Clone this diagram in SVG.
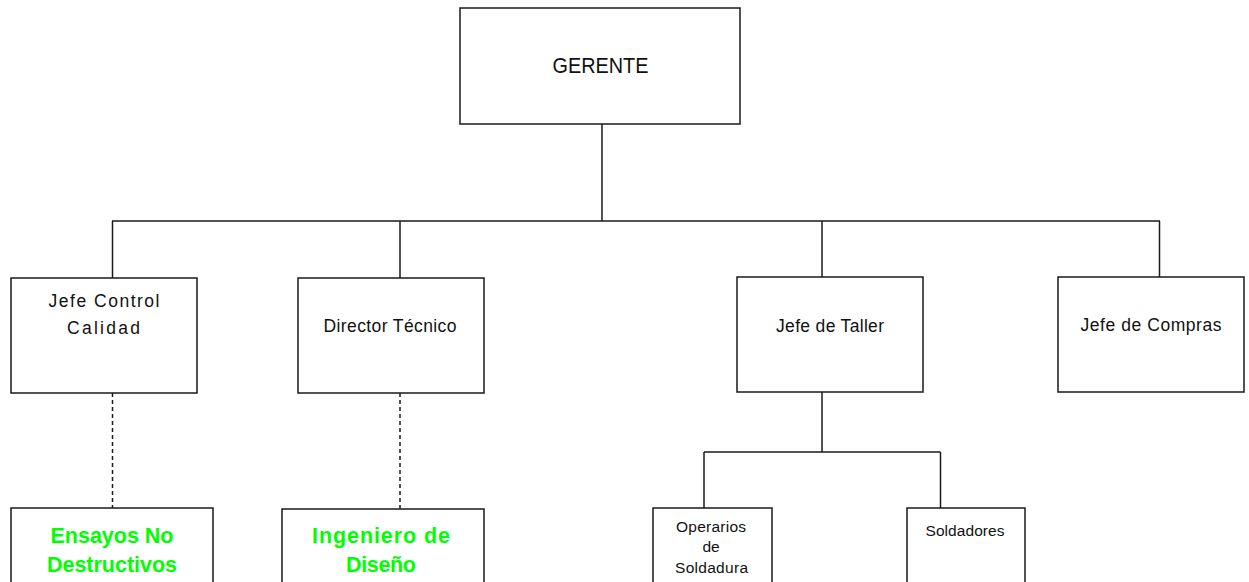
<svg xmlns="http://www.w3.org/2000/svg" width="1249" height="582" viewBox="0 0 1249 582">
<style>
.box{fill:#fff;stroke:#1a1a1a;stroke-width:1.5}
.ln{fill:none;stroke:#1a1a1a;stroke-width:1.5}
.dash{fill:none;stroke:#1a1a1a;stroke-width:1.5;stroke-dasharray:4 3}
.t{font-family:"Liberation Sans",Arial,sans-serif;font-size:17.5px;fill:#111;text-anchor:middle}
.big{font-size:22px}
.sm{font-size:15.5px}
.g{font-family:"Liberation Sans",Arial,sans-serif;font-size:21.5px;font-weight:bold;fill:#00ff00;text-anchor:middle}
</style>
<rect width="1249" height="582" fill="#fff"/>
<g id="connectors">
<line class="ln" x1="602" y1="124" x2="602" y2="221"/>
<line class="ln" x1="112" y1="221" x2="1160" y2="221"/>
<line class="ln" x1="112.5" y1="221" x2="112.5" y2="278"/>
<line class="ln" x1="400" y1="221" x2="400" y2="278"/>
<line class="ln" x1="822" y1="221" x2="822" y2="277"/>
<line class="ln" x1="1159.5" y1="221" x2="1159.5" y2="277"/>
<line class="dash" x1="112.5" y1="393" x2="112.5" y2="508"/>
<line class="dash" x1="400" y1="393" x2="400" y2="509"/>
<line class="ln" x1="822" y1="392" x2="822" y2="452"/>
<line class="ln" x1="704" y1="452" x2="940.5" y2="452"/>
<line class="ln" x1="704" y1="452" x2="704" y2="508"/>
<line class="ln" x1="940.5" y1="452" x2="940.5" y2="508"/>
</g>
<g id="gerente">
<rect class="box" x="460" y="8" width="280" height="116"/>
<text class="t big" x="600.5" y="73" textLength="96" lengthAdjust="spacingAndGlyphs">GERENTE</text>
</g>
<g id="jefe-control-calidad">
<rect class="box" x="11" y="278" width="186" height="115"/>
<text class="t" x="104" y="307" textLength="111">Jefe Control</text>
<text class="t" x="103.5" y="334" textLength="73">Calidad</text>
</g>
<g id="director-tecnico">
<rect class="box" x="298" y="278" width="186" height="115"/>
<text class="t" x="390" y="332" textLength="133">Director Técnico</text>
</g>
<g id="jefe-taller">
<rect class="box" x="737" y="277" width="186" height="115"/>
<text class="t" x="830" y="332" textLength="108">Jefe de Taller</text>
</g>
<g id="jefe-compras">
<rect class="box" x="1058" y="277" width="186" height="115"/>
<text class="t" x="1151" y="331" textLength="141">Jefe de Compras</text>
</g>
<g id="ensayos">
<rect class="box" x="11" y="508" width="202" height="90"/>
<text class="g" x="112" y="543" textLength="123">Ensayos No</text>
<text class="g" x="112" y="572" textLength="130">Destructivos</text>
</g>
<g id="ingeniero">
<rect class="box" x="282" y="509" width="202" height="90"/>
<text class="g" x="381" y="543" textLength="138">Ingeniero de</text>
<text class="g" x="381" y="572" textLength="70">Diseño</text>
</g>
<g id="operarios">
<rect class="box" x="653" y="508" width="119" height="90"/>
<text class="t sm" x="711" y="531.5" textLength="70">Operarios</text>
<text class="t sm" x="711" y="552" textLength="17">de</text>
<text class="t sm" x="711.5" y="573" textLength="73">Soldadura</text>
</g>
<g id="soldadores">
<rect class="box" x="907" y="508" width="118" height="90"/>
<text class="t sm" x="965" y="536" textLength="79">Soldadores</text>
</g>
</svg>
